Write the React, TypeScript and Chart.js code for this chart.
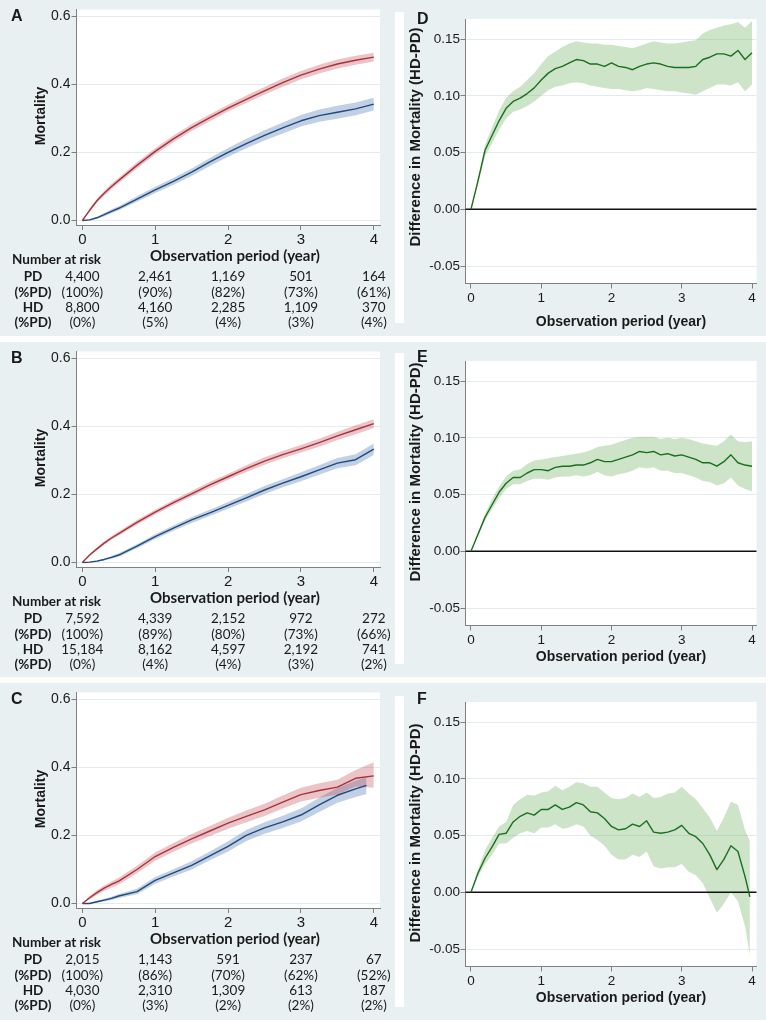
import React, { useEffect, useRef } from 'react';
import { Chart, registerables } from 'chart.js';

Chart.register(...registerables);

// ---------- tick values ----------
const yearTicks = [0, 1, 2, 3, 4];
const mortalityTicks = [0, 0.2, 0.4, 0.6];
const diffTicks = [-0.05, 0, 0.05, 0.1, 0.15];

// ---------- Kaplan-Meier style mortality curves (panels A-C) ----------
const tKM = [0, 0.1, 0.2, 0.3, 0.4, 0.5, 0.75, 1, 1.25, 1.5, 1.75, 2, 2.25, 2.5, 2.75, 3, 3.25, 3.5, 3.75, 4];
const tKM_C_pd = [0, 0.1, 0.2, 0.3, 0.4, 0.5, 0.75, 1, 1.25, 1.5, 1.75, 2, 2.25, 2.5, 2.75, 3, 3.25, 3.5, 3.75, 3.9];

// Panel A
const hdA = [0, 0.03, 0.058, 0.08, 0.1, 0.118, 0.162, 0.203, 0.24, 0.273, 0.302, 0.33, 0.356, 0.381, 0.405, 0.427, 0.445, 0.46, 0.471, 0.48];
const hdA_lo = [0, 0.026, 0.052, 0.073, 0.092, 0.11, 0.153, 0.194, 0.23, 0.263, 0.292, 0.32, 0.345, 0.37, 0.393, 0.415, 0.432, 0.447, 0.458, 0.467];
const hdA_hi = [0, 0.034, 0.064, 0.087, 0.108, 0.126, 0.171, 0.212, 0.25, 0.283, 0.312, 0.34, 0.367, 0.392, 0.417, 0.439, 0.458, 0.473, 0.484, 0.493];
const pdA = [0, 0.002, 0.008, 0.017, 0.027, 0.036, 0.063, 0.09, 0.115, 0.142, 0.172, 0.2, 0.226, 0.25, 0.272, 0.293, 0.308, 0.318, 0.328, 0.342];
const pdA_lo = [0, 0, 0.005, 0.012, 0.021, 0.03, 0.055, 0.081, 0.105, 0.131, 0.16, 0.187, 0.212, 0.235, 0.256, 0.276, 0.29, 0.299, 0.309, 0.323];
const pdA_hi = [0, 0.004, 0.011, 0.022, 0.033, 0.042, 0.071, 0.099, 0.125, 0.153, 0.184, 0.213, 0.24, 0.265, 0.288, 0.31, 0.326, 0.337, 0.347, 0.361];

// Panel B
const hdB = [0, 0.022, 0.04, 0.057, 0.072, 0.085, 0.118, 0.148, 0.176, 0.202, 0.228, 0.252, 0.276, 0.298, 0.317, 0.334, 0.352, 0.372, 0.39, 0.408];
const hdB_lo = [0, 0.019, 0.036, 0.052, 0.067, 0.079, 0.111, 0.141, 0.168, 0.194, 0.219, 0.243, 0.266, 0.287, 0.306, 0.323, 0.34, 0.36, 0.377, 0.395];
const hdB_hi = [0, 0.025, 0.044, 0.062, 0.077, 0.091, 0.125, 0.155, 0.184, 0.21, 0.237, 0.261, 0.286, 0.309, 0.328, 0.345, 0.364, 0.384, 0.403, 0.421];
const pdB = [0, 0.001, 0.004, 0.009, 0.015, 0.022, 0.048, 0.076, 0.101, 0.125, 0.146, 0.168, 0.19, 0.213, 0.233, 0.252, 0.272, 0.292, 0.302, 0.333];
const pdB_lo = [0, 0, 0.002, 0.006, 0.011, 0.017, 0.042, 0.069, 0.093, 0.116, 0.137, 0.158, 0.179, 0.201, 0.221, 0.239, 0.258, 0.277, 0.286, 0.316];
const pdB_hi = [0, 0.002, 0.006, 0.012, 0.019, 0.027, 0.054, 0.083, 0.109, 0.134, 0.155, 0.178, 0.201, 0.225, 0.245, 0.265, 0.286, 0.307, 0.318, 0.35];

// Panel C
const hdC = [0, 0.017, 0.032, 0.045, 0.056, 0.066, 0.1, 0.138, 0.165, 0.19, 0.213, 0.236, 0.256, 0.275, 0.298, 0.32, 0.332, 0.342, 0.368, 0.375];
const hdC_lo = [0, 0.012, 0.025, 0.037, 0.047, 0.056, 0.089, 0.126, 0.152, 0.176, 0.198, 0.22, 0.239, 0.257, 0.279, 0.3, 0.311, 0.32, 0.344, 0.34];
const hdC_hi = [0, 0.022, 0.039, 0.053, 0.065, 0.076, 0.111, 0.15, 0.178, 0.204, 0.228, 0.252, 0.273, 0.293, 0.317, 0.34, 0.353, 0.364, 0.392, 0.415];
const pdC = [0, 0, 0.005, 0.01, 0.015, 0.022, 0.035, 0.068, 0.09, 0.112, 0.14, 0.168, 0.2, 0.222, 0.24, 0.26, 0.29, 0.318, 0.337, 0.347];
const pdC_lo = [0, 0, 0.002, 0.006, 0.01, 0.016, 0.027, 0.058, 0.079, 0.1, 0.127, 0.153, 0.184, 0.205, 0.222, 0.241, 0.269, 0.296, 0.313, 0.322];
const pdC_hi = [0, 0.001, 0.008, 0.014, 0.02, 0.028, 0.043, 0.078, 0.101, 0.124, 0.153, 0.183, 0.216, 0.239, 0.258, 0.279, 0.311, 0.34, 0.361, 0.372];

// ---------- Differences in mortality HD-PD (panels D-F) ----------
const tDiff = [0, 0.1, 0.2, 0.3, 0.4, 0.5, 0.6, 0.7, 0.8, 0.9, 1, 1.1, 1.2, 1.3, 1.4, 1.5, 1.6, 1.7, 1.8, 1.9, 2, 2.1, 2.2, 2.3, 2.4, 2.5, 2.6, 2.7, 2.8, 2.9, 3, 3.1, 3.2, 3.3, 3.4, 3.5, 3.6, 3.7, 3.8, 3.9, 4];
const tDiffF = [0, 0.1, 0.2, 0.3, 0.4, 0.5, 0.6, 0.7, 0.8, 0.9, 1, 1.1, 1.2, 1.3, 1.4, 1.5, 1.6, 1.7, 1.8, 1.9, 2, 2.1, 2.2, 2.3, 2.4, 2.5, 2.6, 2.7, 2.8, 2.9, 3, 3.1, 3.2, 3.3, 3.4, 3.5, 3.6, 3.7, 3.8, 3.9, 3.97];

const diffD = [0, 0.025, 0.052, 0.065, 0.078, 0.089, 0.095, 0.098, 0.102, 0.107, 0.114, 0.12, 0.124, 0.126, 0.129, 0.132, 0.131, 0.128, 0.128, 0.126, 0.129, 0.126, 0.125, 0.123, 0.126, 0.128, 0.129, 0.128, 0.126, 0.125, 0.125, 0.125, 0.126, 0.132, 0.134, 0.137, 0.137, 0.135, 0.14, 0.132, 0.138];
const diffD_hi = [0, 0.028, 0.057, 0.072, 0.087, 0.098, 0.104, 0.108, 0.114, 0.12, 0.128, 0.135, 0.139, 0.143, 0.146, 0.148, 0.147, 0.146, 0.146, 0.145, 0.145, 0.144, 0.143, 0.142, 0.144, 0.146, 0.148, 0.147, 0.146, 0.146, 0.147, 0.148, 0.149, 0.155, 0.158, 0.16, 0.162, 0.163, 0.165, 0.16, 0.166];
const diffD_lo = [0, 0.022, 0.047, 0.058, 0.07, 0.08, 0.086, 0.088, 0.091, 0.095, 0.1, 0.105, 0.108, 0.109, 0.111, 0.112, 0.111, 0.109, 0.108, 0.107, 0.106, 0.106, 0.105, 0.104, 0.105, 0.107, 0.106, 0.105, 0.104, 0.104, 0.103, 0.102, 0.101, 0.104, 0.107, 0.11, 0.11, 0.109, 0.112, 0.104, 0.11];

const diffE = [0, 0.015, 0.03, 0.041, 0.052, 0.06, 0.065, 0.065, 0.069, 0.072, 0.072, 0.071, 0.074, 0.075, 0.075, 0.076, 0.076, 0.078, 0.081, 0.079, 0.079, 0.081, 0.083, 0.085, 0.088, 0.087, 0.088, 0.085, 0.086, 0.084, 0.085, 0.083, 0.081, 0.078, 0.078, 0.075, 0.079, 0.085, 0.078, 0.076, 0.075];
const diffE_hi = [0, 0.017, 0.033, 0.046, 0.057, 0.066, 0.071, 0.072, 0.077, 0.08, 0.081, 0.082, 0.083, 0.084, 0.085, 0.086, 0.087, 0.089, 0.092, 0.093, 0.094, 0.096, 0.098, 0.1, 0.101, 0.101, 0.101, 0.099, 0.1, 0.099, 0.1, 0.099, 0.097, 0.095, 0.094, 0.093, 0.097, 0.103, 0.097, 0.096, 0.097];
const diffE_lo = [0, 0.013, 0.027, 0.037, 0.047, 0.055, 0.059, 0.059, 0.062, 0.064, 0.064, 0.063, 0.065, 0.066, 0.066, 0.067, 0.066, 0.067, 0.07, 0.067, 0.066, 0.068, 0.069, 0.071, 0.074, 0.073, 0.074, 0.071, 0.071, 0.069, 0.069, 0.067, 0.065, 0.062, 0.061, 0.058, 0.06, 0.065, 0.058, 0.055, 0.053];

const diffF = [0, 0.017, 0.03, 0.04, 0.051, 0.052, 0.062, 0.067, 0.07, 0.068, 0.073, 0.073, 0.077, 0.073, 0.075, 0.079, 0.077, 0.071, 0.07, 0.065, 0.058, 0.055, 0.056, 0.06, 0.058, 0.063, 0.053, 0.052, 0.053, 0.055, 0.059, 0.052, 0.049, 0.043, 0.033, 0.02, 0.029, 0.041, 0.036, 0.014, -0.004];
const diffF_hi = [0, 0.02, 0.037, 0.048, 0.058, 0.062, 0.077, 0.082, 0.086, 0.085, 0.088, 0.089, 0.094, 0.09, 0.093, 0.097, 0.096, 0.093, 0.093, 0.088, 0.083, 0.082, 0.083, 0.087, 0.084, 0.088, 0.083, 0.084, 0.087, 0.088, 0.093, 0.087, 0.082, 0.074, 0.066, 0.054, 0.066, 0.08, 0.077, 0.055, 0.045];
const diffF_lo = [0, 0.014, 0.025, 0.033, 0.043, 0.043, 0.048, 0.052, 0.054, 0.052, 0.057, 0.057, 0.06, 0.056, 0.057, 0.06, 0.058, 0.05, 0.046, 0.041, 0.033, 0.029, 0.029, 0.033, 0.031, 0.036, 0.023, 0.021, 0.022, 0.022, 0.025, 0.018, 0.015, 0.008, -0.005, -0.018, -0.01, 0, -0.008, -0.03, -0.055];

// ---------- Number at risk tables ----------
const riskPD_A = ['4,400', '2,461', '1,169', '501', '164'];
const pctPD_A = ['(100%)', '(90%)', '(82%)', '(73%)', '(61%)'];
const riskHD_A = ['8,800', '4,160', '2,285', '1,109', '370'];
const pctHD_A = ['(0%)', '(5%)', '(4%)', '(3%)', '(4%)'];

const riskPD_B = ['7,592', '4,339', '2,152', '972', '272'];
const pctPD_B = ['(100%)', '(89%)', '(80%)', '(73%)', '(66%)'];
const riskHD_B = ['15,184', '8,162', '4,597', '2,192', '741'];
const pctHD_B = ['(0%)', '(4%)', '(4%)', '(3%)', '(2%)'];

const riskPD_C = ['2,015', '1,143', '591', '237', '67'];
const pctPD_C = ['(100%)', '(86%)', '(70%)', '(62%)', '(52%)'];
const riskHD_C = ['4,030', '2,310', '1,309', '613', '187'];
const pctHD_C = ['(0%)', '(3%)', '(2%)', '(2%)', '(2%)'];

// ---------- styles ----------
const BG = '#e9f0f1';
const TEXT = '#1a1a1a';
const AXIS = '#808080';
const GRID = '#e3ebed';
const RED = '#a8323c';
const RED_BAND = 'rgba(190,60,70,0.3)';
const BLUE = '#1f4a7a';
const BLUE_BAND = 'rgba(50,100,170,0.3)';
const GREEN = '#17701e';
const GREEN_BAND = 'rgba(100,170,85,0.32)';
const ARIAL = '"Liberation Sans", Arial, Helvetica, sans-serif';
const LATO = 'Lato, "Open Sans", sans-serif';
const X_AXIS_H = 20;

interface Band { t: number[]; mid: number[]; lo: number[]; hi: number[]; line: string; fill: string }
interface TableRow { label: string; values: string[]; y: number }
interface PanelCfg {
  id: string;
  left: number; top: number; width: number; height: number;
  plot: { l: number; t: number; r: number; b: number };
  xRange: [number, number];
  yRange: [number, number];
  yTicks: number[];
  yDec: number;
  xTickFont: number; yTickFont: number;
  xTickPad: number; yTickPad: number;
  bands: Band[];
  zeroLine: boolean;
  yTitle: { text: string; x: number; y: number; font: string };
  xTitle: { text: string; x: number; y: number; font: string };
  table?: { header: string; headerX: number; headerY: number; labelX: number; rows: TableRow[] };
}

const pts = (t: number[], v: number[]) => t.map((x, i) => ({ x, y: v[i] }));

function makeDecor(c: PanelCfg) {
  return {
    id: 'decor',
    beforeDraw(chart: any) {
      const { ctx, chartArea: a } = chart;
      ctx.save();
      ctx.fillStyle = '#ffffff';
      ctx.fillRect(a.left, a.top, a.right - a.left, a.bottom - a.top);
      ctx.restore();
    },
    beforeDatasetsDraw(chart: any) {
      if (!c.zeroLine) return;
      const { ctx, chartArea: a, scales } = chart;
      const y = scales.y.getPixelForValue(0);
      ctx.save();
      ctx.strokeStyle = '#111111';
      ctx.lineWidth = 1.6;
      ctx.beginPath();
      ctx.moveTo(a.left, y);
      ctx.lineTo(a.right, y);
      ctx.stroke();
      ctx.restore();
    },
    afterDraw(chart: any) {
      const { ctx, scales } = chart;
      ctx.save();
      ctx.fillStyle = TEXT;
      ctx.save();
      ctx.translate(c.yTitle.x, c.yTitle.y);
      ctx.rotate(-Math.PI / 2);
      ctx.font = c.yTitle.font;
      ctx.textAlign = 'center';
      ctx.textBaseline = 'middle';
      ctx.fillText(c.yTitle.text, 0, 0);
      ctx.restore();
      ctx.font = c.xTitle.font;
      ctx.textAlign = 'center';
      ctx.textBaseline = 'middle';
      ctx.fillText(c.xTitle.text, c.xTitle.x, c.xTitle.y);
      if (c.table) {
        const tb = c.table;
        ctx.font = `bold 13.5px ${LATO}`;
        ctx.textAlign = 'left';
        ctx.fillText(tb.header, tb.headerX, tb.headerY);
        tb.rows.forEach((row) => {
          ctx.font = `bold 13.5px ${LATO}`;
          ctx.textAlign = 'center';
          ctx.fillText(row.label, tb.labelX, row.y);
          ctx.font = `13.5px ${LATO}`;
          row.values.forEach((v, i) => {
            ctx.fillText(v, scales.x.getPixelForValue(yearTicks[i]), row.y);
          });
        });
      }
      ctx.restore();
    },
  };
}

function Panel({ c }: { c: PanelCfg }) {
  const ref = useRef<HTMLCanvasElement | null>(null);
  useEffect(() => {
    const datasets: any[] = [];
    c.bands.forEach((b) => {
      datasets.push({ data: pts(b.t, b.lo), borderWidth: 0, borderColor: 'rgba(0,0,0,0)', backgroundColor: 'rgba(0,0,0,0)', pointRadius: 0, fill: false });
      datasets.push({ data: pts(b.t, b.hi), borderWidth: 0, borderColor: 'rgba(0,0,0,0)', backgroundColor: b.fill, pointRadius: 0, fill: '-1' });
    });
    c.bands.forEach((b) => {
      datasets.push({ data: pts(b.t, b.mid), borderColor: b.line, borderWidth: 1.4, pointRadius: 0, fill: false, borderJoinStyle: 'round' });
    });
    const chart = new Chart(ref.current as HTMLCanvasElement, {
      type: 'line',
      data: { datasets },
      options: {
        animation: false,
        responsive: false,
        devicePixelRatio: 1,
        events: [],
        layout: {
          padding: { left: 0, top: c.plot.t, right: c.width - c.plot.r, bottom: c.height - c.plot.b - X_AXIS_H },
        },
        elements: { point: { radius: 0 }, line: { tension: 0 } },
        plugins: {
          legend: { display: false },
          tooltip: { enabled: false },
          filler: { drawTime: 'beforeDatasetsDraw' },
        },
        scales: {
          x: {
            type: 'linear',
            min: c.xRange[0],
            max: c.xRange[1],
            afterBuildTicks: (s: any) => { s.ticks = yearTicks.map((v) => ({ value: v })); },
            afterFit: (s: any) => { s.height = X_AXIS_H; },
            grid: { drawOnChartArea: false, drawTicks: true, tickLength: 5, tickColor: AXIS, tickWidth: 1 },
            border: { display: true, color: AXIS, width: 1 },
            ticks: {
              autoSkip: false, maxRotation: 0, padding: c.xTickPad, color: TEXT,
              font: { family: ARIAL, size: c.xTickFont },
              callback: (v: any) => String(v),
            },
          },
          y: {
            type: 'linear',
            min: c.yRange[0],
            max: c.yRange[1],
            afterBuildTicks: (s: any) => { s.ticks = c.yTicks.map((v) => ({ value: v })); },
            afterFit: (s: any) => { s.width = c.plot.l; },
            grid: { color: GRID, lineWidth: 1, drawTicks: true, tickLength: 5, tickColor: AXIS, tickWidth: 1 },
            border: { display: true, color: AXIS, width: 1 },
            ticks: {
              padding: c.yTickPad, color: TEXT,
              font: { family: ARIAL, size: c.yTickFont },
              callback: (v: any) => Number(v).toFixed(c.yDec),
            },
          },
        },
      } as any,
      plugins: [makeDecor(c) as any],
    });
    return () => chart.destroy();
  }, []);
  return (
    <canvas
      ref={ref}
      width={c.width}
      height={c.height}
      style={{ position: 'absolute', left: c.left, top: c.top, width: c.width, height: c.height }}
    />
  );
}

const rowTops = [0, 342, 683];
const rowHeights = [336, 335, 337];

function leftPanel(id: string, row: number, bands: Band[], pd: string[], pdPct: string[], hd: string[], hdPct: string[]): PanelCfg {
  return {
    id,
    left: 0, top: rowTops[row], width: 395, height: rowHeights[row],
    plot: { l: 76.5, t: 9.5, r: 380, b: 225 },
    xRange: [-0.08, 4.085],
    yRange: [-0.0132, 0.62],
    yTicks: mortalityTicks,
    yDec: 1,
    xTickFont: 15, yTickFont: 14,
    xTickPad: 1, yTickPad: 1,
    bands,
    zeroLine: false,
    yTitle: { text: 'Mortality', x: 41, y: 116, font: `bold 14px ${ARIAL}` },
    xTitle: { text: 'Observation period (year)', x: 235, y: 256, font: `bold 15px ${LATO}` },
    table: {
      header: 'Number at risk', headerX: 12, headerY: 260, labelX: 33,
      rows: [
        { label: 'PD', values: pd, y: 277 },
        { label: '(%PD)', values: pdPct, y: 292.5 },
        { label: 'HD', values: hd, y: 308 },
        { label: '(%PD)', values: hdPct, y: 323 },
      ],
    },
  };
}

function rightPanel(id: string, row: number, band: Band, yTitleY: number, xTitleY: number): PanelCfg {
  return {
    id,
    left: 404, top: rowTops[row], width: 362, height: rowHeights[row],
    plot: { l: 61.5, t: 19, r: 352.5, b: 283.5 },
    xRange: [-0.078, 4.064],
    yRange: [-0.0654, 0.1677],
    yTicks: diffTicks,
    yDec: 2,
    xTickFont: 13.5, yTickFont: 13.5,
    xTickPad: 1.5, yTickPad: 0.5,
    bands: [band],
    zeroLine: true,
    yTitle: { text: 'Difference in Mortality (HD-PD)', x: 12, y: yTitleY, font: `bold 15px ${ARIAL}` },
    xTitle: { text: 'Observation period (year)', x: 217, y: xTitleY, font: `bold 14px ${ARIAL}` },
  };
}

const panels: PanelCfg[] = [
  leftPanel('A', 0, [
    { t: tKM, mid: hdA, lo: hdA_lo, hi: hdA_hi, line: RED, fill: RED_BAND },
    { t: tKM, mid: pdA, lo: pdA_lo, hi: pdA_hi, line: BLUE, fill: BLUE_BAND },
  ], riskPD_A, pctPD_A, riskHD_A, pctHD_A),
  leftPanel('B', 1, [
    { t: tKM, mid: hdB, lo: hdB_lo, hi: hdB_hi, line: RED, fill: RED_BAND },
    { t: tKM, mid: pdB, lo: pdB_lo, hi: pdB_hi, line: BLUE, fill: BLUE_BAND },
  ], riskPD_B, pctPD_B, riskHD_B, pctHD_B),
  leftPanel('C', 2, [
    { t: tKM, mid: hdC, lo: hdC_lo, hi: hdC_hi, line: RED, fill: RED_BAND },
    { t: tKM_C_pd, mid: pdC, lo: pdC_lo, hi: pdC_hi, line: BLUE, fill: BLUE_BAND },
  ], riskPD_C, pctPD_C, riskHD_C, pctHD_C),
  rightPanel('D', 0, { t: tDiff, mid: diffD, lo: diffD_lo, hi: diffD_hi, line: GREEN, fill: GREEN_BAND }, 137, 322),
  rightPanel('E', 1, { t: tDiff, mid: diffE, lo: diffE_lo, hi: diffE_hi, line: GREEN, fill: GREEN_BAND }, 130, 315),
  rightPanel('F', 2, { t: tDiffF, mid: diffF, lo: diffF_lo, hi: diffF_hi, line: GREEN, fill: GREEN_BAND }, 150, 315),
];

const letters = [
  { text: 'A', x: 11, y: 8 },
  { text: 'B', x: 11, y: 350 },
  { text: 'C', x: 11, y: 691 },
  { text: 'D', x: 417, y: 11 },
  { text: 'E', x: 417, y: 349 },
  { text: 'F', x: 417, y: 691 },
];

export default function App() {
  return (
    <div style={{ position: 'absolute', left: 0, top: 0, width: 766, height: 1020, background: BG, overflow: 'hidden' }}>
      <div style={{ position: 'absolute', left: 0, top: 336, width: 766, height: 6, background: '#ffffff' }} />
      <div style={{ position: 'absolute', left: 0, top: 677, width: 766, height: 6, background: '#ffffff' }} />
      {[12, 353, 696].map((t) => (
        <div key={t} style={{ position: 'absolute', left: 395, top: t, width: 9, height: 311, background: '#ffffff' }} />
      ))}
      {panels.map((p) => (
        <Panel key={p.id} c={p} />
      ))}
      {letters.map((l) => (
        <div
          key={l.text}
          style={{
            position: 'absolute', left: l.x, top: l.y, font: `bold 16px ${ARIAL}`, lineHeight: '16px', color: TEXT,
          }}
        >
          {l.text}
        </div>
      ))}
    </div>
  );
}
